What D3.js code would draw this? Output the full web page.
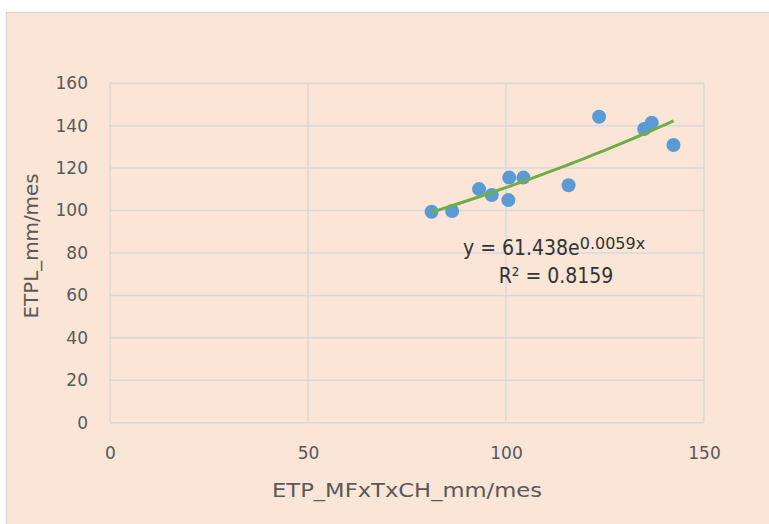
<!DOCTYPE html>
<html>
<head>
<meta charset="utf-8">
<script src="https://d3js.org/d3.v7.min.js"></script>
<style>
  body { margin: 0; background: #fff; }
  text { font-family: "DejaVu Sans", "Open Sans", sans-serif; }
</style>
</head>
<body>
<script>
  // data
  var etpMF = [81.2, 86.4, 93.2, 96.4, 100.8, 100.6, 104.4, 115.8, 123.5, 134.9, 136.8, 142.3];
  var etpL  = [99.4, 99.8, 110.1, 107.3, 115.5, 104.9, 115.5, 111.9, 144.2, 138.4, 141.4, 130.9];
  var xTicks = [0, 50, 100, 150];
  var yTicks = [0, 20, 40, 60, 80, 100, 120, 140, 160];
  // exponential trendline as printed on the chart
  var trendA = 61.438, trendB = 0.0059;
  var trendLabel = "y = 61.438e", trendExp = "0.0059x", r2Label = "R² = 0.8159";

  var W = 769, H = 524;
  var svg = d3.select("body").append("svg")
      .attr("width", W)
      .attr("height", H);

  // chart area background
  svg.append("rect")
      .attr("x", 6.5).attr("y", 12.5)
      .attr("width", W + 10).attr("height", H + 10)
      .attr("fill", "#FBE5D6")
      .attr("stroke", "#D9D9D9")
      .attr("stroke-width", 1.5);

  var x = d3.scaleLinear().domain([0, 150]).range([110, 704]);
  var y = d3.scaleLinear().domain([0, 160]).range([422.7, 83.2]);

  // gridlines
  svg.append("g").selectAll("line.h")
    .data(yTicks).enter().append("line")
      .attr("x1", x(0)).attr("x2", x(150))
      .attr("y1", function (d) { return y(d); })
      .attr("y2", function (d) { return y(d); })
      .attr("stroke", "#D9D9D9").attr("stroke-width", 1.5);
  svg.append("g").selectAll("line.v")
    .data(xTicks).enter().append("line")
      .attr("y1", y(0)).attr("y2", y(160))
      .attr("x1", function (d) { return x(d); })
      .attr("x2", function (d) { return x(d); })
      .attr("stroke", "#D9D9D9").attr("stroke-width", 1.5);

  // tick labels
  var yAxis = d3.axisLeft(y).tickValues(yTicks).tickSize(0).tickPadding(22);
  var gy = svg.append("g").attr("transform", "translate(" + x(0) + ",0)").call(yAxis);
  var xAxis = d3.axisBottom(x).tickValues(xTicks).tickSize(0).tickPadding(24);
  var gx = svg.append("g").attr("transform", "translate(0," + y(0) + ")").call(xAxis);
  [gy, gx].forEach(function (g) {
    g.select(".domain").remove();
    g.selectAll("text")
      .attr("fill", "#595959")
      .style("font-size", "17px")
      .style("font-family", "'DejaVu Sans', sans-serif");
  });

  // axis titles
  svg.append("text")
      .attr("x", 407).attr("y", 497)
      .attr("text-anchor", "middle")
      .attr("fill", "#595959")
      .attr("textLength", 270)
      .attr("lengthAdjust", "spacingAndGlyphs")
      .style("font-size", "20px")
      .text("ETP_MFxTxCH_mm/mes");
  svg.append("text")
      .attr("transform", "translate(38,246) rotate(-90)")
      .attr("text-anchor", "middle")
      .attr("fill", "#595959")
      .attr("textLength", 145)
      .attr("lengthAdjust", "spacingAndGlyphs")
      .style("font-size", "20px")
      .text("ETPL_mm/mes");

  // points
  svg.append("g").selectAll("circle")
    .data(etpMF).enter().append("circle")
      .attr("cx", function (d) { return x(d); })
      .attr("cy", function (d, i) { return y(etpL[i]); })
      .attr("r", 7)
      .attr("fill", "#5B9BD5");

  // trendline
  var x0 = d3.min(etpMF), x1 = d3.max(etpMF);
  var tline = d3.range(x0, x1 + 0.01, (x1 - x0) / 40);
  svg.append("path")
      .datum(tline)
      .attr("fill", "none")
      .attr("stroke", "#70AD47")
      .attr("stroke-width", 3)
      .attr("d", d3.line()
        .x(function (d) { return x(d); })
        .y(function (d) { return y(trendA * Math.exp(trendB * d)); }));

  // equation label
  var eq = svg.append("text")
      .attr("x", 463).attr("y", 255)
      .attr("fill", "#333333")
      .style("font-size", "21px")
      .style("font-family", "'DejaVu Sans Condensed', 'DejaVu Sans', sans-serif");
  eq.append("tspan").text(trendLabel);
  eq.append("tspan").attr("dy", -6)
      .style("font-size", "16px")
      .style("font-family", "'DejaVu Sans', sans-serif")
      .text(trendExp);
  svg.append("text")
      .attr("x", 556).attr("y", 283)
      .attr("text-anchor", "middle")
      .attr("fill", "#333333")
      .style("font-size", "21px")
      .style("font-family", "'DejaVu Sans Condensed', 'DejaVu Sans', sans-serif")
      .text(r2Label);
</script>
</body>
</html>
